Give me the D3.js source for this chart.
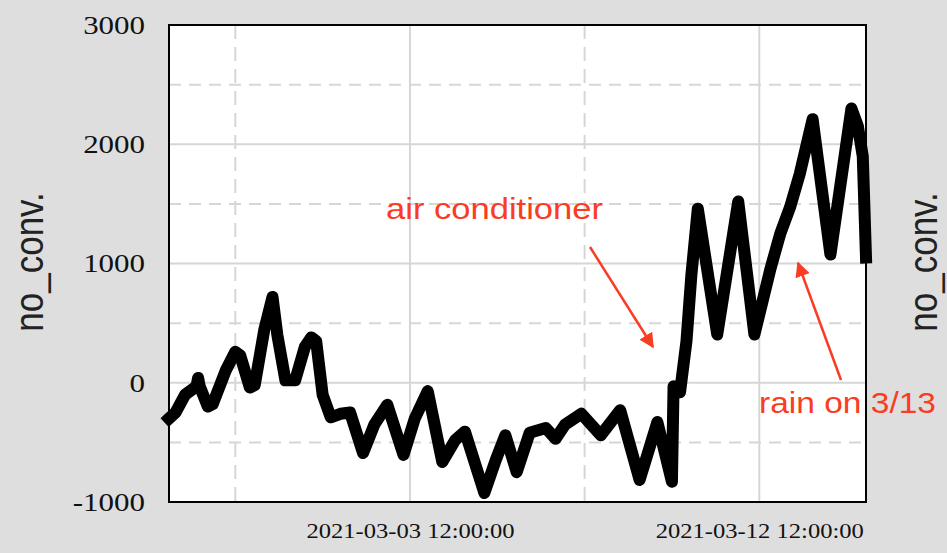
<!DOCTYPE html>
<html>
<head>
<meta charset="utf-8">
<script src="https://cdn.jsdelivr.net/npm/d3@7"></script>
<style>
  body { margin: 0; background: #dedede; }
  svg { display: block; }
</style>
</head>
<body>
<svg id="chart" width="947" height="553"></svg>
<script>
// values
var times = [
  "2021-02-25 07:00", "2021-02-25 11:00", "2021-02-25 17:00", "2021-02-26 00:00", "2021-02-26 01:00",
  "2021-02-26 02:00", "2021-02-26 07:00", "2021-02-26 10:00", "2021-02-26 18:00", "2021-02-27 00:00",
  "2021-02-27 03:00", "2021-02-27 09:00", "2021-02-27 12:00", "2021-02-27 18:00", "2021-02-27 23:00",
  "2021-02-28 02:00", "2021-02-28 07:00", "2021-02-28 13:00", "2021-02-28 19:00", "2021-02-28 23:00",
  "2021-03-01 02:00", "2021-03-01 06:00", "2021-03-01 11:00", "2021-03-01 17:00", "2021-03-01 23:00",
  "2021-03-02 07:00", "2021-03-02 14:00", "2021-03-02 22:00", "2021-03-03 08:00", "2021-03-03 15:00",
  "2021-03-03 23:00", "2021-03-04 08:00", "2021-03-04 16:00", "2021-03-04 22:00", "2021-03-05 10:00",
  "2021-03-05 17:00", "2021-03-05 23:00", "2021-03-06 06:00", "2021-03-06 14:00", "2021-03-07 00:00",
  "2021-03-07 06:00", "2021-03-07 12:00", "2021-03-07 22:00", "2021-03-08 10:00", "2021-03-08 22:00",
  "2021-03-09 10:00", "2021-03-09 21:00", "2021-03-10 06:00", "2021-03-10 07:00", "2021-03-10 11:00",
  "2021-03-10 15:00", "2021-03-10 18:00", "2021-03-10 22:00", "2021-03-11 10:00", "2021-03-11 23:00",
  "2021-03-12 09:00", "2021-03-12 19:00", "2021-03-13 01:00", "2021-03-13 07:00", "2021-03-13 13:00",
  "2021-03-13 21:00", "2021-03-14 08:00", "2021-03-14 21:00", "2021-03-15 01:00", "2021-03-15 04:00",
  "2021-03-15 06:00"
];
var values = [
  -300, -250, -100, -30, 40,
  -30, -200, -180, 100, 260,
  230, -40, -20, 450, 720,
  400, 20, 20, 300, 380,
  350, -100, -290, -260, -250,
  -590, -350, -185, -605, -300,
  -70, -665, -480, -410, -925,
  -650, -440, -750, -420, -380,
  -470, -350, -260, -440, -230,
  -815, -330, -830, -30, -80,
  350, 900, 1460, 405, 1520,
  405, 960, 1250, 1470, 1750,
  2210, 1075, 2300, 2150, 1900,
  1050
];
var yTicks = [-1000, 0, 1000, 2000, 3000];
var yMinor = [-500, 500, 1500, 2500];
var xTicks = ["2021-03-03 12:00", "2021-03-12 12:00"];
var xMinor = ["2021-02-27 00:00", "2021-03-08 00:00"];
var xDomain = ["2021-02-25 07:00", "2021-03-15 06:00"];
var yLabel = "no_conv.";

var parse = d3.timeParse("%Y-%m-%d %H:%M");
var data = times.map(function(t, i) { return { t: parse(t), v: values[i] }; });

var svg = d3.select("#chart");
var margin = { top: 25, right: 81, bottom: 51, left: 169 };
var W = 947 - margin.left - margin.right;
var H = 553 - margin.top - margin.bottom;

var x = d3.scaleTime().domain(xDomain.map(parse)).range([0, W]);
var y = d3.scaleLinear().domain([-1000, 3000]).range([H, 0]);

var g = svg.append("g").attr("transform", "translate(" + margin.left + "," + margin.top + ")");

g.append("rect").attr("width", W).attr("height", H).attr("fill", "#fff");

// grid
var gridColor = "#d6d6d6";
g.selectAll(".hgrid").data(yTicks.slice(1, -1)).enter().append("line")
  .attr("x1", 0).attr("x2", W).attr("y1", d => y(d)).attr("y2", d => y(d))
  .attr("stroke", gridColor).attr("stroke-width", 2);
g.selectAll(".hminor").data(yMinor).enter().append("line")
  .attr("x1", 0).attr("x2", W).attr("y1", d => y(d)).attr("y2", d => y(d))
  .attr("stroke", gridColor).attr("stroke-width", 2).attr("stroke-dasharray", "12,8");
g.selectAll(".vgrid").data(xTicks).enter().append("line")
  .attr("y1", 0).attr("y2", H).attr("x1", d => x(parse(d))).attr("x2", d => x(parse(d)))
  .attr("stroke", gridColor).attr("stroke-width", 2);
g.selectAll(".vminor").data(xMinor).enter().append("line")
  .attr("y1", 0).attr("y2", H).attr("x1", d => x(parse(d))).attr("x2", d => x(parse(d)))
  .attr("stroke", gridColor).attr("stroke-width", 2).attr("stroke-dasharray", "14,8");

g.append("rect").attr("width", W).attr("height", H)
  .attr("fill", "none").attr("stroke", "#000").attr("stroke-width", 2);

// axes
function stretch(sel, k) {
  sel.selectAll("text").each(function() {
    var w = this.getComputedTextLength();
    d3.select(this).attr("textLength", w * k).attr("lengthAdjust", "spacingAndGlyphs");
  });
}

var yAxis = g.append("g")
  .call(d3.axisLeft(y).tickValues(yTicks).tickSize(0).tickPadding(24).tickFormat(d => String(d)));
yAxis.select(".domain").remove();
yAxis.selectAll("text").attr("font-family", "'Liberation Serif', serif").attr("font-size", 26).attr("fill", "#111");
stretch(yAxis, 1.19);

var xAxis = g.append("g").attr("transform", "translate(0," + H + ")")
  .call(d3.axisBottom(x).tickValues(xTicks.map(parse)).tickSize(0).tickPadding(21)
    .tickFormat(d3.timeFormat("%Y-%m-%d %H:%M:%S")));
xAxis.select(".domain").remove();
xAxis.selectAll("text").attr("font-family", "'Liberation Serif', serif").attr("font-size", 21).attr("fill", "#111");
stretch(xAxis, 1.17);

// series
var line = d3.line().x(d => x(d.t)).y(d => y(d.v));
g.append("path").datum(data)
  .attr("d", line)
  .attr("fill", "none")
  .attr("stroke", "#000")
  .attr("stroke-width", 12)
  .attr("stroke-linejoin", "round")
  .attr("stroke-linecap", "square");

// side labels
[[43, 262], [937, 262]].forEach(function(p) {
  svg.append("text")
    .attr("transform", "translate(" + p[0] + "," + p[1] + ") rotate(-90) scale(1,1.15)")
    .attr("text-anchor", "middle")
    .attr("font-family", "'Liberation Sans', Arial, sans-serif")
    .attr("font-size", 35)
    .attr("fill", "#222")
    .text(yLabel);
});

// annotations
var red = "#fa3c22";
svg.append("defs").append("marker")
  .attr("id", "head").attr("viewBox", "0 0 10 10")
  .attr("refX", 9).attr("refY", 5)
  .attr("markerWidth", 6).attr("markerHeight", 6)
  .attr("markerUnits", "strokeWidth")
  .attr("orient", "auto")
  .append("path").attr("d", "M0,0L10,5L0,10z").attr("fill", red);

var notes = [
  { text: "air conditioner", x: 386, y: 219, len: 217, from: [590, 247], to: [653, 347] },
  { text: "rain on 3/13", x: 759, y: 413, len: 177, from: [841, 380], to: [798, 263] }
];
notes.forEach(function(n) {
  svg.append("line")
    .attr("x1", n.from[0]).attr("y1", n.from[1]).attr("x2", n.to[0]).attr("y2", n.to[1])
    .attr("stroke", red).attr("stroke-width", 2.5).attr("marker-end", "url(#head)");
  svg.append("text")
    .attr("x", n.x).attr("y", n.y)
    .attr("font-family", "'Liberation Sans', Arial, sans-serif")
    .attr("font-size", 29)
    .attr("fill", red)
    .attr("textLength", n.len).attr("lengthAdjust", "spacingAndGlyphs")
    .text(n.text);
});
</script>
</body>
</html>
